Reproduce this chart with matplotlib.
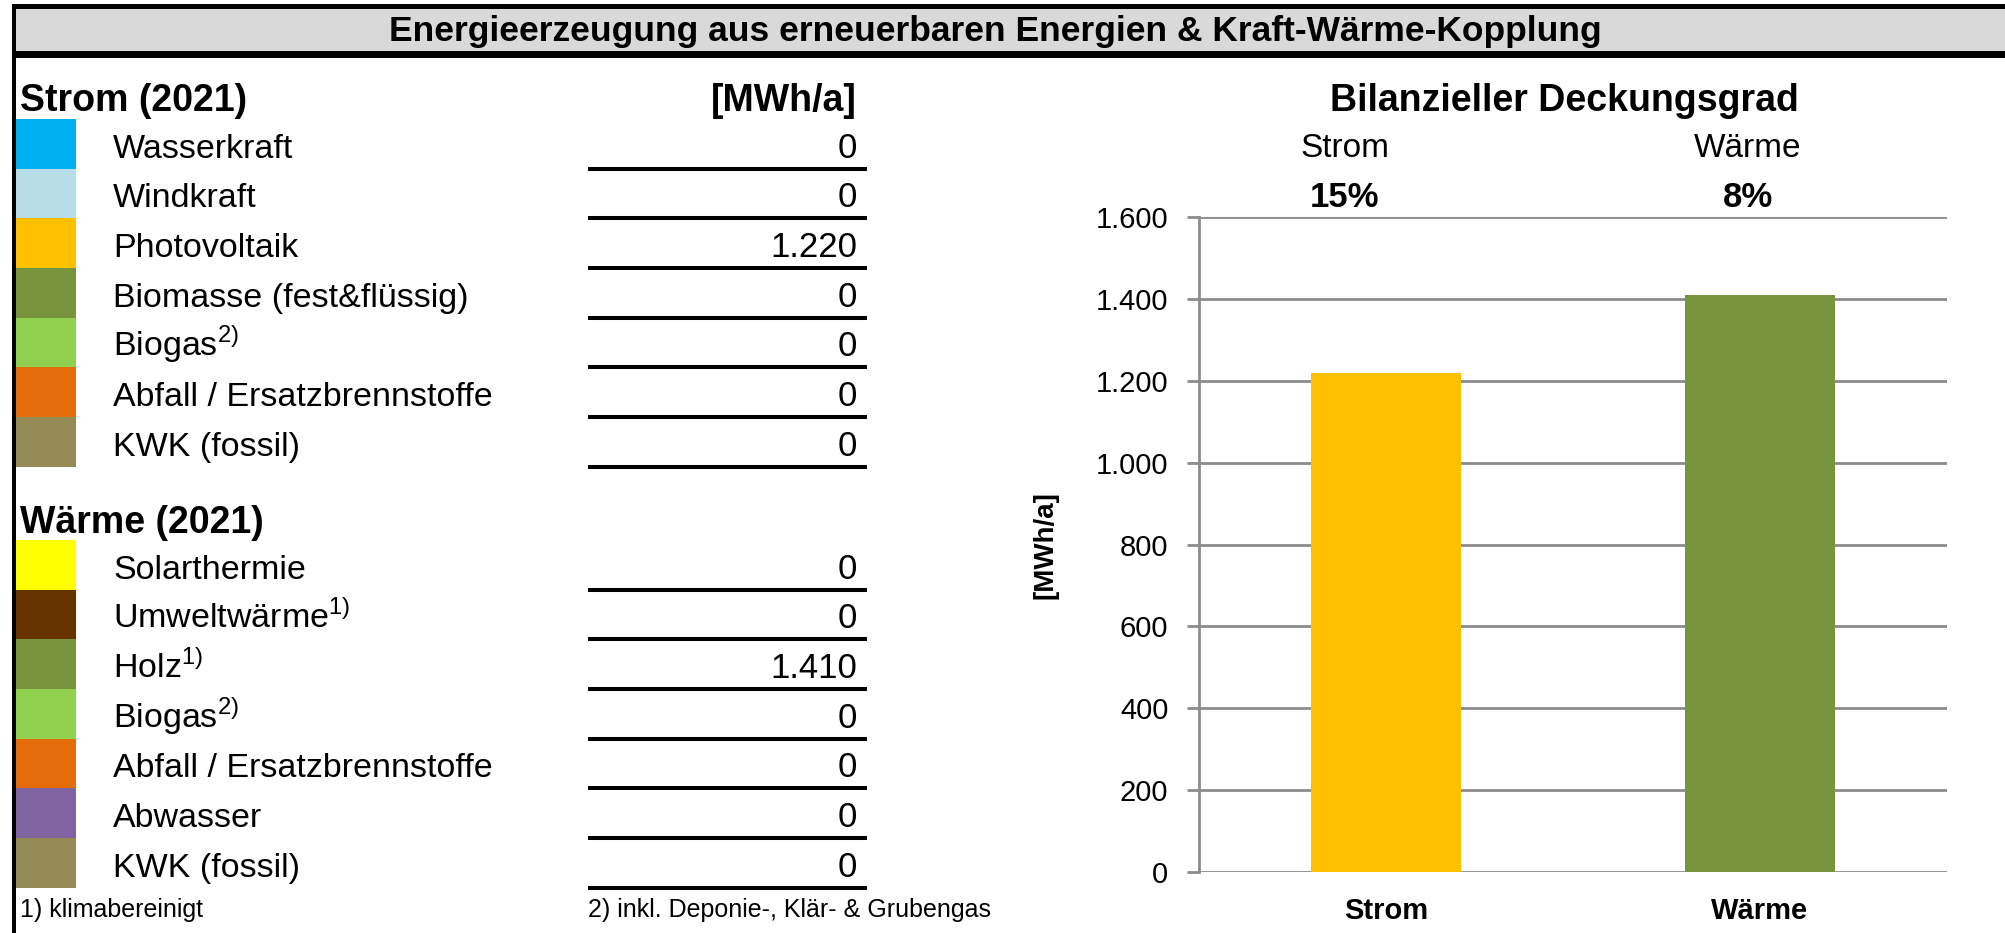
import matplotlib
matplotlib.use("Agg")
import matplotlib.pyplot as plt
from matplotlib.patches import Rectangle

plt.rcParams['font.family'] = ['Liberation Sans', 'DejaVu Sans']
plt.rcParams['mathtext.fontset'] = 'custom'
plt.rcParams['mathtext.rm'] = 'Liberation Sans'

# table data
stromLabels = ["Wasserkraft", "Windkraft", "Photovoltaik", "Biomasse (fest&flüssig)",
               "Biogas$^{\\mathrm{2)}}$", "Abfall / Ersatzbrennstoffe", "KWK (fossil)"]
stromColors = ["#00B0F0", "#B7DEE8", "#FFC000", "#77933C", "#92D050", "#E46C0A", "#948A54"]
stromValues = ["0", "0", "1.220", "0", "0", "0", "0"]

waermeLabels = ["Solarthermie", "Umweltwärme$^{\\mathrm{1)}}$", "Holz$^{\\mathrm{1)}}$",
                "Biogas$^{\\mathrm{2)}}$", "Abfall / Ersatzbrennstoffe", "Abwasser", "KWK (fossil)"]
waermeColors = ["#FFFF00", "#663300", "#77933C", "#92D050", "#E46C0A", "#8064A2", "#948A54"]
waermeValues = ["0", "0", "1.410", "0", "0", "0", "0"]

# chart data
categories = ["Strom", "Wärme"]
totals = [1220, 1410]
barColors = ["#FFC000", "#77933C"]
coverage = ["15%", "8%"]

W, H = 2005, 933
fig = plt.figure(figsize=(W / 100, H / 100), dpi=100)
ax0 = fig.add_axes([0, 0, 1, 1])
ax0.set_xlim(0, W)
ax0.set_ylim(H, 0)
ax0.axis("off")

# frame and title band
ax0.add_patch(Rectangle((12, 9), W - 12, 42, color="#D9D9D9", lw=0))
ax0.add_patch(Rectangle((12, 4), W - 12, 5, color="black", lw=0))
ax0.add_patch(Rectangle((12, 51), W - 12, 7, color="black", lw=0))
ax0.add_patch(Rectangle((12, 4), 4, H - 4, color="black", lw=0))
ax0.text(995, 31, "Energieerzeugung aus erneuerbaren Energien & Kraft-Wärme-Kopplung",
		 ha="center", va="center", fontsize=25.5, fontweight="bold")

ax0.text(20, 111, "Strom (2021)", fontsize=27, fontweight="bold", va="baseline")
ax0.text(857, 111, "[MWh/a]", fontsize=27, fontweight="bold", va="baseline", ha="right")
ax0.text(20, 533, "Wärme (2021)", fontsize=27, fontweight="bold", va="baseline")

pitch = 49.65


def drawRows(top, labels, colors, values):
	for i in range(len(labels)):
		y0 = top + i * pitch
		ax0.add_patch(Rectangle((16, y0), 60, pitch, color=colors[i], lw=0))
		ax0.text(113, y0 + pitch - 11, labels[i], fontsize=24.5, va="baseline")
		ax0.text(857, y0 + pitch - 11, values[i], fontsize=25, va="baseline", ha="right")
		ax0.plot([588, 867], [y0 + pitch, y0 + pitch], color="black", lw=2.9,
				 solid_capstyle="butt")


drawRows(119, stromLabels, stromColors, stromValues)
drawRows(540, waermeLabels, waermeColors, waermeValues)

ax0.text(20, 917, "1) klimabereinigt", fontsize=18, va="baseline")
ax0.text(588, 917, "2) inkl. Deponie-, Klär- & Grubengas", fontsize=18, va="baseline")

# chart headings
ax0.text(1564, 111, "Bilanzieller Deckungsgrad", fontsize=27, fontweight="bold",
		 va="baseline", ha="center")
headX = [1345, 1748]
for i in range(len(categories)):
	ax0.text(headX[i], 157, categories[i], fontsize=24, va="baseline", ha="center")
	ax0.text(headX[i], 207, coverage[i], fontsize=25, fontweight="bold",
			 va="baseline", ha="center")
ax0.text(1046, 545, "[MWh/a]", fontsize=20, fontweight="bold", rotation=90,
		 ha="center", va="center")

# bar chart
ax = fig.add_axes([1199 / W, 1 - 872 / H, (1947 - 1199) / W, (872 - 217) / H])
ax.set_facecolor("none")
ax.bar(range(len(categories)), totals, width=0.4, color=barColors, zorder=3)
ax.set_xlim(-0.5, 1.5)
ax.set_ylim(0, 1600)
ax.set_yticks(range(0, 1601, 200))
ax.set_yticklabels(["{:,}".format(v).replace(",", ".") for v in range(0, 1601, 200)],
				   fontsize=21)
ax.set_xticks(range(len(categories)))
ax.set_xticklabels(categories, fontsize=21, fontweight="bold")
ax.grid(axis="y", color="#8C8C8C", lw=2, zorder=0)
ax.tick_params(axis="y", length=9, width=2, color="#8C8C8C", pad=13)
ax.tick_params(axis="x", length=0, pad=18)
for s in ["top", "right", "bottom"]:
	ax.spines[s].set_visible(False)
ax.spines["left"].set_color("#8C8C8C")
ax.spines["left"].set_linewidth(2)

fig.savefig("out.png", dpi=100)
